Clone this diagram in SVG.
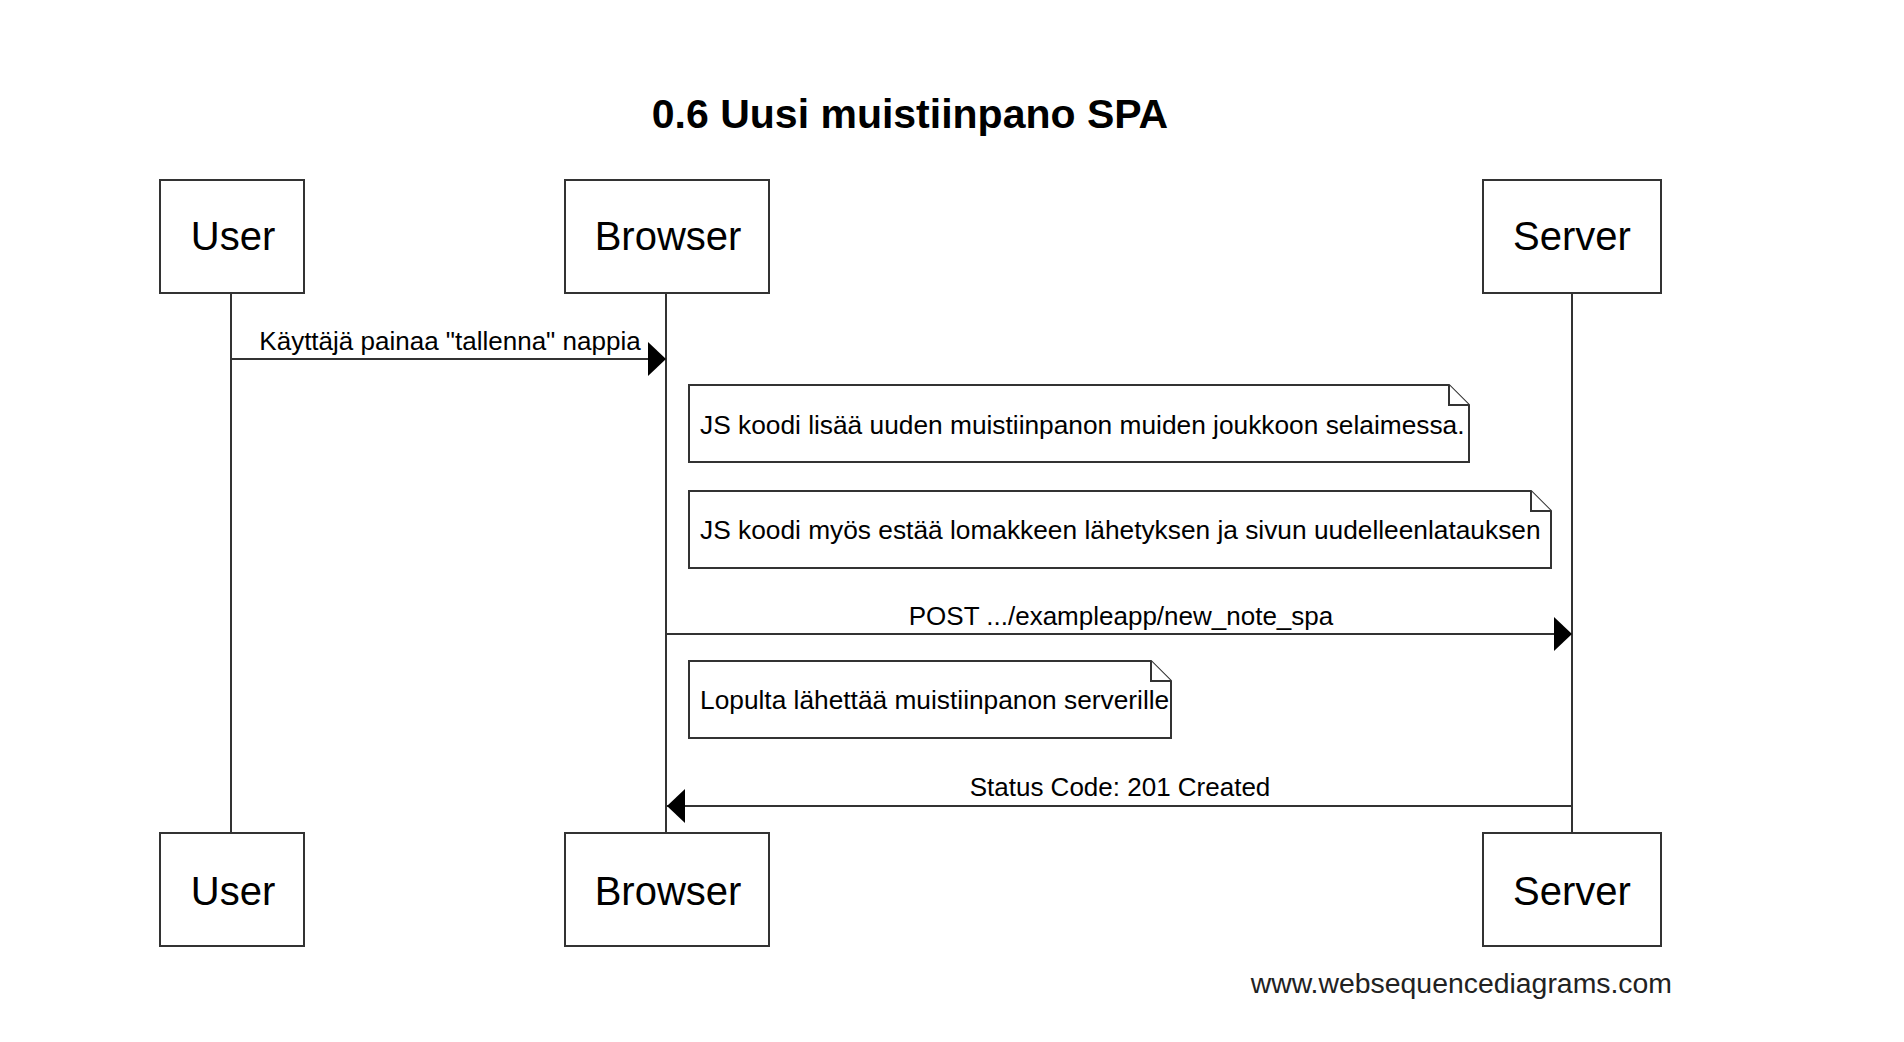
<svg xmlns="http://www.w3.org/2000/svg" width="1904" height="1042" viewBox="0 0 1904 1042">
<style>
.box{fill:#fff;stroke:#333;stroke-width:2}
.life{stroke:#333;stroke-width:2;fill:none}
.msg{stroke:#333;stroke-width:2;fill:none}
.note{fill:#fff;stroke:#333;stroke-width:2}
.ptxt{font-family:"Liberation Sans",Arial,sans-serif;font-size:40px;fill:#000;text-anchor:middle}
.mtxt{font-family:"Liberation Sans",Arial,sans-serif;font-size:26px;fill:#000;text-anchor:middle}
.ntxt{font-family:"Liberation Sans",Arial,sans-serif;font-size:26.3px;fill:#000}
.title{font-family:"Liberation Sans",Arial,sans-serif;font-size:41px;font-weight:bold;fill:#000;text-anchor:middle}
.foot{font-family:"Liberation Sans",Arial,sans-serif;font-size:28.4px;fill:#222;text-anchor:end}
</style>
<defs>
<marker id="ah" markerWidth="20" markerHeight="36" refX="18" refY="17" orient="auto" markerUnits="userSpaceOnUse">
<path d="M0,0 L18,17 L0,34 Z" fill="#000"/>
</marker>
</defs>
<rect width="1904" height="1042" fill="#fff"/>
<text class="title" x="910" y="128">0.6 Uusi muistiinpano SPA</text>
<g id="lifelines">
<line class="life" x1="231" y1="293" x2="231" y2="833"/>
<line class="life" x1="666" y1="293" x2="666" y2="833"/>
<line class="life" x1="1572" y1="293" x2="1572" y2="833"/>
</g>
<g id="user-top"><rect class="box" x="160" y="180" width="144" height="113"/><text class="ptxt" x="233" y="250">User</text></g>
<g id="browser-top"><rect class="box" x="565" y="180" width="204" height="113"/><text class="ptxt" x="668" y="250">Browser</text></g>
<g id="server-top"><rect class="box" x="1483" y="180" width="178" height="113"/><text class="ptxt" x="1572" y="250">Server</text></g>
<g id="user-bottom"><rect class="box" x="160" y="833" width="144" height="113"/><text class="ptxt" x="233" y="905">User</text></g>
<g id="browser-bottom"><rect class="box" x="565" y="833" width="204" height="113"/><text class="ptxt" x="668" y="905">Browser</text></g>
<g id="server-bottom"><rect class="box" x="1483" y="833" width="178" height="113"/><text class="ptxt" x="1572" y="905">Server</text></g>
<g id="note1"><path class="note" d="M689,385 H1449 L1469,405 V462 H689 Z"/><path class="note" d="M1449,385 V405 H1469" fill="none"/><text class="ntxt" x="700" y="434">JS koodi lisää uuden muistiinpanon muiden joukkoon selaimessa.</text></g>
<g id="note2"><path class="note" d="M689,491 H1531 L1551,511 V568 H689 Z"/><path class="note" d="M1531,491 V511 H1551" fill="none"/><text class="ntxt" x="700" y="539">JS koodi myös estää lomakkeen lähetyksen ja sivun uudelleenlatauksen</text></g>
<g id="note3"><path class="note" d="M689,661 H1151 L1171,681 V738 H689 Z"/><path class="note" d="M1151,661 V681 H1171" fill="none"/><text class="ntxt" x="700" y="709">Lopulta lähettää muistiinpanon serverille</text></g>
<g id="connectors">
<line class="msg" x1="231" y1="359" x2="666" y2="359" marker-end="url(#ah)"/>
<text class="mtxt" x="450" y="350">Käyttäjä painaa "tallenna" nappia</text>
<line class="msg" x1="666" y1="634" x2="1572" y2="634" marker-end="url(#ah)"/>
<text class="mtxt" x="1121" y="625">POST .../exampleapp/new_note_spa</text>
<line class="msg" x1="1572" y1="806" x2="667" y2="806" marker-end="url(#ah)"/>
<text class="mtxt" x="1120" y="796">Status Code: 201 Created</text>
</g>
<text class="foot" x="1672" y="993">www.websequencediagrams.com</text>
</svg>
